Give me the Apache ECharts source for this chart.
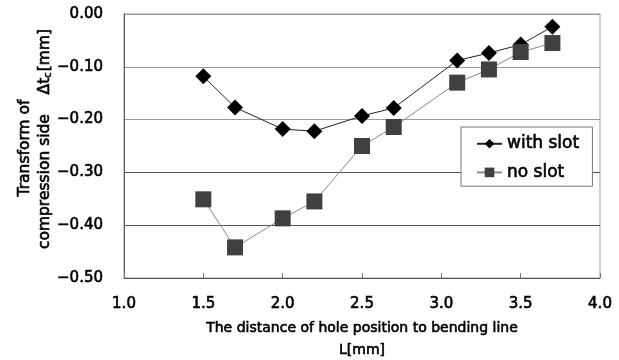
<!DOCTYPE html>
<html>
<head>
<meta charset="utf-8">
<script src="https://cdn.jsdelivr.net/npm/echarts@6/dist/echarts.min.js"></script>
<style>html,body{margin:0;padding:0;background:#fff}#c{width:619px;height:360px}</style>
</head>
<body>
<div id="c"></div>
<script>
var xWithSlot = [1.5, 1.7, 2.0, 2.2, 2.5, 2.7, 3.1, 3.3, 3.5, 3.7];
var withSlot = [-0.118, -0.177, -0.218, -0.222, -0.193, -0.178, -0.088, -0.074, -0.058, -0.024];
var xNoSlot = [1.5, 1.7, 2.0, 2.2, 2.5, 2.7, 3.1, 3.3, 3.5, 3.7];
var noSlot = [-0.351, -0.442, -0.387, -0.355, -0.250, -0.214, -0.130, -0.105, -0.072, -0.055];
var seriesNames = ['with slot', 'no slot'];
var xTitle = ['The distance of hole position to bending line', 'L[mm]'];
var yTitleLine1 = 'Transform of';
var yTitleLine2 = 'compression side';

var font = '"DejaVu Sans", Verdana, sans-serif';
var heavy = { textBorderColor: '#000', textBorderWidth: 0.6 };
function pairs(xs, ys) { return xs.map(function (x, i) { return [x, ys[i]]; }); }
function withHeavy(o) { return Object.assign({}, heavy, o); }

var chart = echarts.init(document.getElementById('c'), null, { renderer: 'canvas' });
chart.setOption({
  animation: false,
  backgroundColor: '#fff',
  grid: { left: 124, right: 19, top: 14, bottom: 82, outerBoundsMode: 'none', containLabel: false,
    show: true, borderColor: '#9a9a9a', borderWidth: 1, backgroundColor: 'transparent' },
  xAxis: {
    type: 'value', min: 1, max: 4, interval: 0.5,
    axisLine: { show: true, onZero: false, lineStyle: { color: '#555', width: 1 } },
    axisTick: { show: true, inside: true, length: 5, lineStyle: { color: '#777' } },
    splitLine: { show: false },
    axisLabel: withHeavy({ margin: 19, color: '#000', fontSize: 15, fontFamily: font, formatter: function (v) { return v.toFixed(1); } }),
    name: xTitle.join('\n'),
    nameLocation: 'middle', nameGap: 37,
    nameTextStyle: withHeavy({ color: '#000', fontSize: 14, fontFamily: font, lineHeight: 22 })
  },
  yAxis: {
    type: 'value', min: -0.5, max: 0, interval: 0.1,
    axisLine: { show: true, lineStyle: { color: '#555', width: 1 } },
    axisTick: { show: false },
    splitLine: { show: true, lineStyle: { color: ['#555', '#555', '#555', '#9a9a9a', '#9a9a9a', '#9a9a9a'], width: 1 } },
    axisLabel: withHeavy({ margin: 21, color: '#000', fontSize: 15, fontFamily: font, formatter: function (v) { return v.toFixed(2).replace('-', '\u2212'); } })
  },
  legend: {
    orient: 'vertical', left: 461, top: 127,
    padding: [8, 13, 5, 15], itemGap: 11,
    backgroundColor: '#fff', borderColor: '#777', borderWidth: 1, borderRadius: 0,
    itemWidth: 25, itemHeight: 12,
    textStyle: withHeavy({ color: '#000', fontSize: 17, fontFamily: font }),
    data: seriesNames
  },
  graphic: [
    { type: 'text', x: 25, y: 148, rotation: Math.PI / 2, style: { text: yTitleLine1, fill: '#000', stroke: '#000', lineWidth: 0.6, font: '15.5px ' + font, align: 'center', verticalAlign: 'middle' } },
    { type: 'text', x: 45, y: 139, rotation: Math.PI / 2, style: { text: '{n|' + yTitleLine2 + '    Δt}{s|c}{n|[mm]}', fill: '#000', font: '15.5px ' + font, align: 'center', verticalAlign: 'middle',
      rich: {
        n: { fontSize: 15.5, fontFamily: font, fill: '#000', stroke: '#000', lineWidth: 0.6 },
        s: { fontSize: 10, fontFamily: font, fill: '#000', stroke: '#000', lineWidth: 0.5, verticalAlign: 'bottom', padding: [7, 1, 0, 0] }
      } } }
  ],
  series: [
    { name: seriesNames[0], type: 'line', data: pairs(xWithSlot, withSlot), symbol: 'diamond', symbolSize: 16,
      itemStyle: { color: '#000' }, lineStyle: { color: '#222', width: 1 } },
    { name: seriesNames[1], type: 'line', data: pairs(xNoSlot, noSlot), symbol: 'rect', symbolSize: 16,
      itemStyle: { color: '#404040' }, lineStyle: { color: '#8a8a8a', width: 1 } }
  ]
});
</script>
</body>
</html>
